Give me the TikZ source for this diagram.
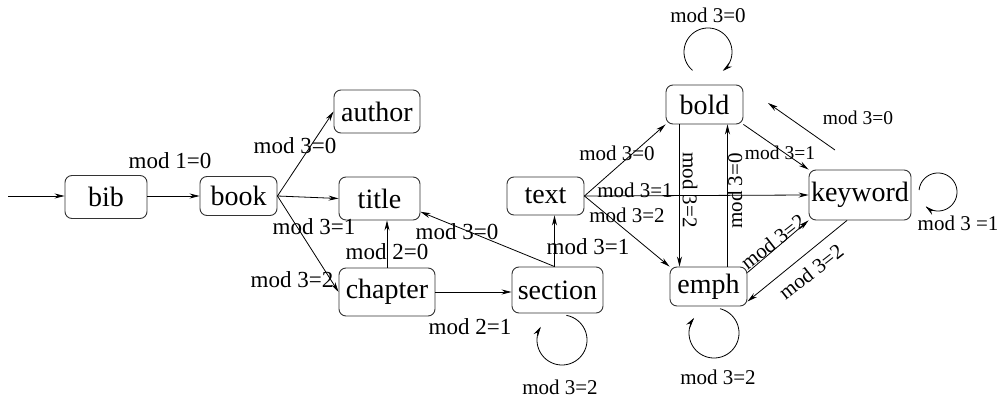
\documentclass[tikz,border=0pt]{standalone}
\usepackage{fontspec}
\setmainfont{Liberation Serif}
\usetikzlibrary{arrows.meta,calc}
\begin{document}
\begin{tikzpicture}[x=1pt,y=-1pt,
 box/.style={draw=black!80, line width=0.9pt, rounded corners=7pt, inner sep=0pt, font=\fontsize{28}{30}\selectfont},
 arr/.style={line width=0.8pt, -{Stealth[length=10pt,width=5pt]}},
 la/.style={font=\fontsize{23}{25}\selectfont, inner sep=0pt},
 lb/.style={font=\fontsize{21}{23}\selectfont, inner sep=0pt},
 lc/.style={font=\fontsize{19.5}{21}\selectfont, inner sep=0pt}]
\useasboundingbox (0,0) rectangle (1004,403);
% nodes
\node[box, minimum width=82pt, minimum height=43pt] (bib) at (106,197) {bib};
\node[box, minimum width=77pt, minimum height=39pt] (book) at (238.5,196) {book};
\node[box, minimum width=86pt, minimum height=43pt] (author) at (377,111.5) {author};
\node[box, minimum width=81pt, minimum height=43pt] (title) at (379.5,198.5) {title};
\node[box, minimum width=96pt, minimum height=48pt] (chapter) at (387,292) {chapter};
\node[box, minimum width=77pt, minimum height=38pt] (text) at (545.5,196) {text};
\node[box, minimum width=91pt, minimum height=46pt] (section) at (557.5,290) {section};
\node[box, minimum width=77pt, minimum height=39pt] (bold) at (704.5,104.5) {bold};
\node[box, minimum width=77pt, minimum height=39pt] (emph) at (708.5,286.5) {emph};
\node[box, minimum width=102pt, minimum height=50pt] (keyword) at (860,195) {keyword};
\coordinate (in) at (8,196);
\coordinate (kbA) at (835,150);
\coordinate (kbB) at (768,103);
% edges
\draw[arr] (in) -- (bib.west |- in);
\draw[arr] (bib.east |- in) -- (book.west |- in);
\draw[arr] (book.east) -- (author.west);
\draw[arr] (book.east) -- (title.west);
\draw[arr] (book.east) -- (chapter.west);
\draw[arr] (chapter.north) -- (chapter.north |- title.south);
\draw[arr] (chapter.east) -- (section.west |- chapter.east);
\draw[arr] ([xshift=-3pt]section.north) -- (title.-18);
\draw[arr] ([xshift=-3pt]section.north) -- ([xshift=-3pt]section.north |- text.south);
\draw[arr] (text.east) -- (bold.south west);
\draw[arr] (text.east) -- (keyword.west);
\draw[arr] (text.east) -- (emph.north west);
\draw[arr] ([xshift=-25pt]bold.south) -- ([xshift=-25pt]bold.south |- emph.north);
\draw[arr] ([xshift=23pt]bold.south |- emph.north) -- ([xshift=23pt]bold.south);
\draw[arr] (bold.south east) -- (keyword.north west);
\draw[arr] (kbA) -- (kbB);
\draw[arr] ([yshift=-6pt]emph.north east) -- (keyword.south west);
\draw[arr] ([xshift=-13pt]keyword.south) -- ([yshift=-15pt]emph.east);
% loops
\draw[arr] plot[domain=-80:212, samples=80, smooth] ({562+25*cos(\x)},{340+25*sin(\x)});
\draw[arr] plot[domain=-76:217, samples=80, smooth] ({714+25*cos(\x)},{333+25*sin(\x)});
\draw[arr] plot[domain=130:412, samples=80, smooth] ({708+24*cos(\x)},{52+24*sin(\x)});
\draw[arr] plot[domain=186:490, samples=80, smooth] ({938+19*cos(\x)},{192+19*sin(\x)});
% labels
\node[la] at (170,161) {mod 1=0};
\node[la] at (295,146) {mod 3=0};
\node[la] at (314,227) {mod 3=1};
\node[la] at (292,280) {mod 3=2};
\node[la] at (387,252) {mod 2=0};
\node[la] at (470,327) {mod 2=1};
\node[la] at (457,232) {mod 3=0};
\node[la] at (588,247) {mod 3=1};
\node[lb] at (560,387) {mod 3=2};
\node[lb] at (617,153) {mod 3=0};
\node[lb] at (635,190) {mod 3=1};
\node[lb] at (627,215) {mod 3=2};
\node[lb, rotate=-90] at (690,190) {mod 3=2};
\node[lb, rotate=90] at (735,191) {mod 3=0};
\node[lc] at (780,153) {mod 3=1};
\node[lc] at (858,118) {mod 3=0};
\node[lb, rotate=38] at (773,242) {mod 3=2};
\node[lb, rotate=38] at (811,272) {mod 3=2};
\node[lb] at (718,377) {mod 3=2};
\node[lb] at (708,15) {mod 3=0};
\node[lb] at (958,223) {mod 3 =1};
\end{tikzpicture}
\end{document}
